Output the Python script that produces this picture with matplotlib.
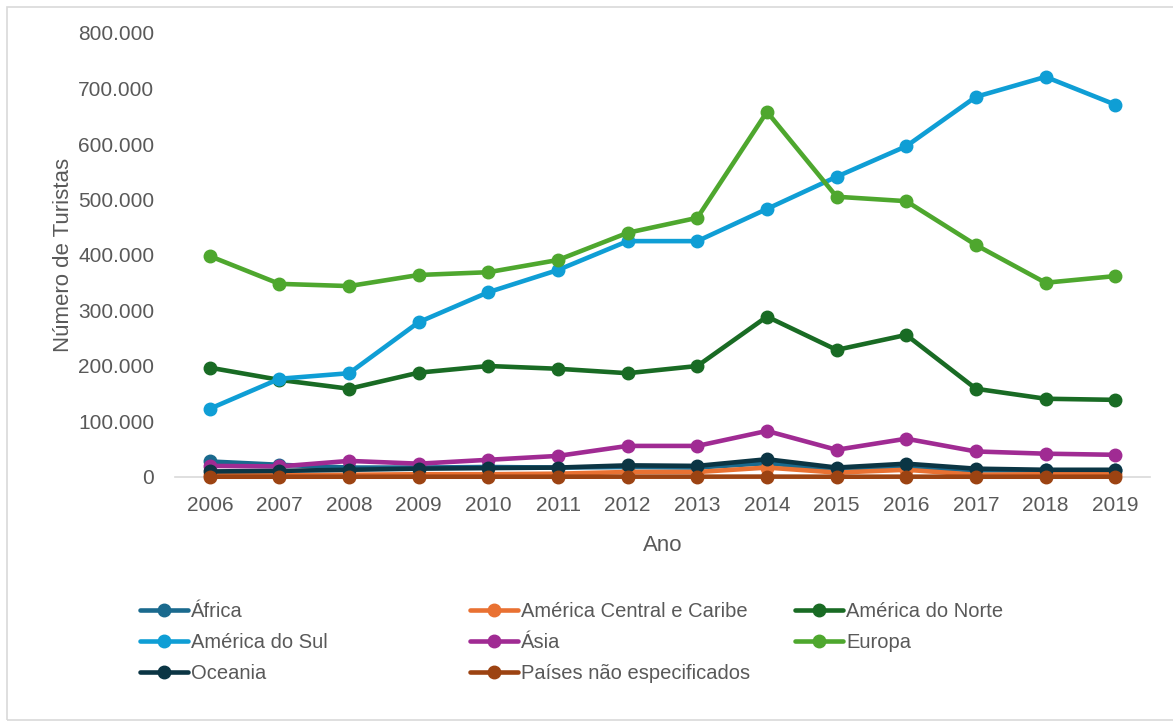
import matplotlib.pyplot as plt
from matplotlib.patches import Rectangle
from matplotlib.ticker import FuncFormatter

# Data
anos = list(range(2006, 2020))
africa = [28000, 22000, 17000, 17000, 18000, 17000, 18000, 17000, 25000, 13000, 18000, 12000, 12000, 12000]
america_central = [3000, 3000, 4000, 5000, 5000, 6000, 9000, 9000, 17000, 8000, 13000, 4000, 5000, 6000]
america_norte = [197000, 175000, 159000, 188000, 200000, 195000, 187000, 200000, 289000, 229000, 256000, 159000, 141000, 139000]
america_sul = [123000, 177000, 187000, 279000, 333000, 373000, 425000, 425000, 483000, 541000, 596000, 685000, 721000, 671000]
asia = [20000, 19000, 29000, 24000, 31000, 38000, 56000, 56000, 83000, 49000, 69000, 46000, 42000, 40000]
europa = [398000, 348000, 344000, 364000, 369000, 391000, 440000, 467000, 658000, 505000, 497000, 418000, 350000, 362000]
oceania = [10000, 11000, 13000, 15000, 16000, 17000, 21000, 20000, 32000, 17000, 24000, 15000, 13000, 13000]
nao_especificados = [500, 500, 500, 500, 500, 500, 600, 600, 700, 500, 600, 500, 500, 500]

series = [
    ('África', africa, '#1A6A8E'),
    ('América Central e Caribe', america_central, '#E97132'),
    ('América do Norte', america_norte, '#196B24'),
    ('América do Sul', america_sul, '#0F9ED5'),
    ('Ásia', asia, '#A02B93'),
    ('Europa', europa, '#4EA72E'),
    ('Oceania', oceania, '#0B3544'),
    ('Países não especificados', nao_especificados, '#9C4312'),
]

plt.rcParams['font.family'] = ['Liberation Sans', 'DejaVu Sans']
cinza = '#595959'

fig = plt.figure(figsize=(11.73, 7.24), dpi=100)
ax = fig.add_axes([175 / 1173, 1 - 477 / 724, 975 / 1173, 444 / 724])

x = list(range(len(anos)))
handles = []
for nome, valores, cor in series:
    h, = ax.plot(x, valores, color=cor, lw=3.3, marker='o', markersize=9,
                 label=nome, clip_on=False, solid_capstyle='round')
    handles.append(h)

ax.set_xlim(-0.5, len(anos) - 0.5)
ax.set_ylim(0, 800000)
ax.set_yticks(range(0, 800001, 100000))
ax.yaxis.set_major_formatter(FuncFormatter(lambda v, p: f'{int(v):,}'.replace(',', '.')))
ax.set_xticks(x)
ax.set_xticklabels([str(a) for a in anos])
ax.tick_params(length=0, labelsize=15, colors=cinza)
ax.tick_params(axis='y', pad=15)
ax.tick_params(axis='x', pad=14)
for s in ['top', 'right', 'left']:
    ax.spines[s].set_visible(False)
ax.spines['bottom'].set_color('#d9d9d9')
ax.spines['bottom'].set_linewidth(1.2)
ax.spines['bottom'].set_zorder(0)

ax.set_xlabel('Ano', fontsize=16, color=cinza, labelpad=14)
ax.set_ylabel('Número de Turistas', fontsize=16, color=cinza, labelpad=3)

# Legend in three columns, filled row by row like the original
colunas = [[0, 3, 6], [1, 4, 7], [2, 5]]
posicoes_x = [140, 470, 795]
for col, px in zip(colunas, posicoes_x):
    fig.legend([handles[i] for i in col], [series[i][0] for i in col],
               loc='upper left', bbox_to_anchor=(px / 1173, 1 - 602 / 724),
               frameon=False, labelcolor=cinza,
               handlelength=2.4, handletextpad=0.15, labelspacing=0.6,
               borderpad=0, borderaxespad=0,
               prop={'family': ['Liberation Sans Narrow', 'Liberation Sans'], 'size': 14.5})

fig.patches.append(Rectangle((7 / 1173, 4 / 724), 1.2, 713 / 724, transform=fig.transFigure,
                             fill=False, edgecolor='#d9d9d9', lw=1.2))

plt.savefig('out.png', dpi=100)
